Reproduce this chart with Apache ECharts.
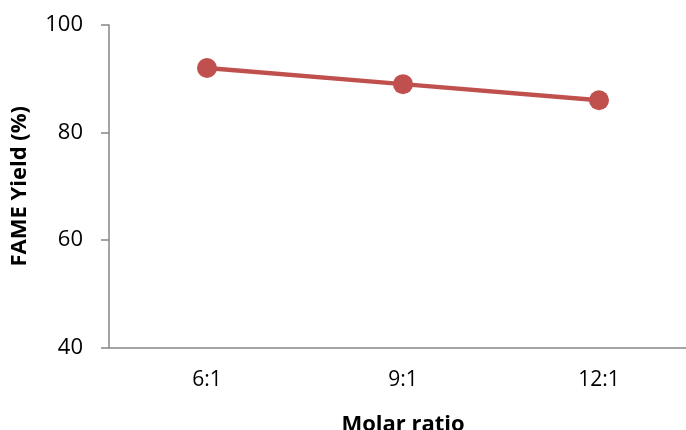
<!DOCTYPE html>
<html>
<head>
<meta charset="utf-8">
<script src="https://cdn.jsdelivr.net/npm/echarts@6/dist/echarts.min.js"></script>
<style>
html,body{margin:0;padding:0;background:#fff;}
#chart{width:686px;height:430px;}
</style>
</head>
<body>
<div id="chart"></div>
<script>
const categories = ['6:1', '9:1', '12:1'];
const fameYield = [92, 89, 86];
const yTicks = [40, 60, 80, 100];

const chart = echarts.init(document.getElementById('chart'), null, {renderer: 'canvas'});
const axisColor = '#868686';
const font = '"Open Sans", "Liberation Sans", sans-serif';
chart.setOption({
  animation: false,
  backgroundColor: '#ffffff',
  grid: {left: 109, top: 25, width: 588, bottom: 82.5, containLabel: false, outerBoundsMode: 'none'},
  xAxis: {
    type: 'category',
    data: categories,
    boundaryGap: true,
    axisLine: {lineStyle: {color: axisColor, width: 1.5}},
    axisTick: {show: false},
    axisLabel: {color: '#000', fontFamily: font, fontSize: 21, margin: 22},
    name: 'Molar ratio',
    nameLocation: 'middle',
    nameGap: 66,
    nameTextStyle: {color: '#000', fontFamily: font, fontSize: 22, fontWeight: 'bold', verticalAlign: 'top'},
    splitLine: {show: false}
  },
  yAxis: {
    type: 'value',
    min: yTicks[0],
    max: yTicks[yTicks.length - 1],
    interval: 20,
    axisLine: {show: true, lineStyle: {color: axisColor, width: 1.5}},
    axisTick: {show: true, length: 8, lineStyle: {color: axisColor, width: 1.5}},
    axisLabel: {color: '#000', fontFamily: font, fontSize: 22, margin: 26},
    splitLine: {show: false},
    name: 'FAME Yield (%)',
    nameLocation: 'middle',
    nameGap: 78,
    nameTextStyle: {color: '#000', fontFamily: font, fontSize: 22, fontWeight: 'bold'}
  },
  series: [{
    type: 'line',
    data: fameYield,
    symbol: 'circle',
    symbolSize: 20,
    lineStyle: {color: '#C0504D', width: 4.5},
    itemStyle: {color: '#C0504D'}
  }]
});
</script>
</body>
</html>
